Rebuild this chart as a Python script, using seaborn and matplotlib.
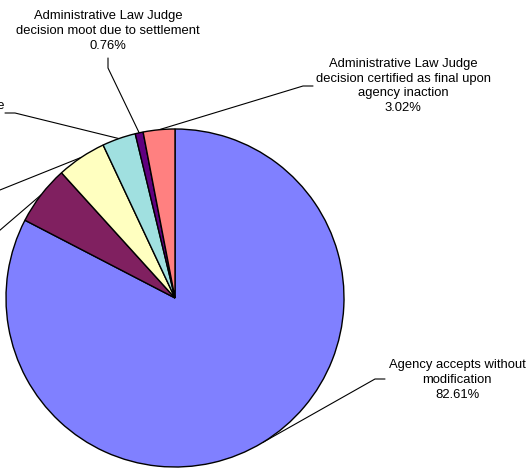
import numpy as np
import matplotlib
matplotlib.use("Agg")
import matplotlib.pyplot as plt
import seaborn as sns

# Outcome of Administrative Law Judge decisions (share of cases)
categories = [
    "Agency accepts without\nmodification",
    "Agency reduces penalty",
    "Agency adopts with\nmodification",
    "Agency rejects and\nremands to Administrative Law Judge\nfor further hearing",
    "Administrative Law Judge\ndecision moot due to settlement",
    "Administrative Law Judge\ndecision certified as final upon\nagency inaction",
]
percent = [82.61, 5.67, 4.73, 3.21, 0.76, 3.02]
colors = ["#8080FF", "#802060", "#FFFFC0", "#A0E0E0", "#600080", "#FF8080"]

sns.set_theme(style="white")
plt.rcParams["font.family"] = ["Liberation Sans", "DejaVu Sans"]

W, H = 532, 469
fig = plt.figure(figsize=(W / 100, H / 100), dpi=100)
ax = fig.add_axes([0, 0, 1, 1])

cx, cy, r = 175, H - 298, 169
wedges, _ = ax.pie(
    percent, colors=colors, startangle=90, counterclock=False,
    center=(cx, cy), radius=r, frame=True,
    wedgeprops=dict(edgecolor="black", linewidth=1.0),
)
ax.set_xlim(0, W)
ax.set_ylim(0, H)
ax.set_aspect("auto")
ax.axis("off")

# label layout in pixel coordinates (y from top):
# (text x, text y, ha, elbow points from label towards wedge)
layout = [
    (457, 380, "center", [(385, 379), (375, 379)]),
    (-18, 237, "right", [(-18, 237), (-8, 237)]),
    (-30, 198, "right", [(-30, 198), (-20, 198)]),
    (5, 113, "right", [(5, 113), (15, 113)]),
    (108, 31, "center", [(108, 58), (108, 68)]),
    (403, 86, "center", [(313, 86), (303, 86)]),
]

for w, name, pct, (tx, ty, ha, elbow) in zip(wedges, categories, percent, layout):
    mid = np.deg2rad((w.theta1 + w.theta2) / 2)
    px, py = cx + r * np.cos(mid), cy + r * np.sin(mid)
    xs = [e[0] for e in elbow] + [px]
    ys = [H - e[1] for e in elbow] + [py]
    ax.plot(xs, ys, color="black", linewidth=0.8, clip_on=False, zorder=0)
    ax.text(tx, H - ty, f"{name}\n{pct:.2f}%", ha=ha, va="center",
            multialignment="center", fontsize=9.4, linespacing=1.32,
            color="black", clip_on=False)

fig.savefig("out.png", dpi=100, facecolor="white")
